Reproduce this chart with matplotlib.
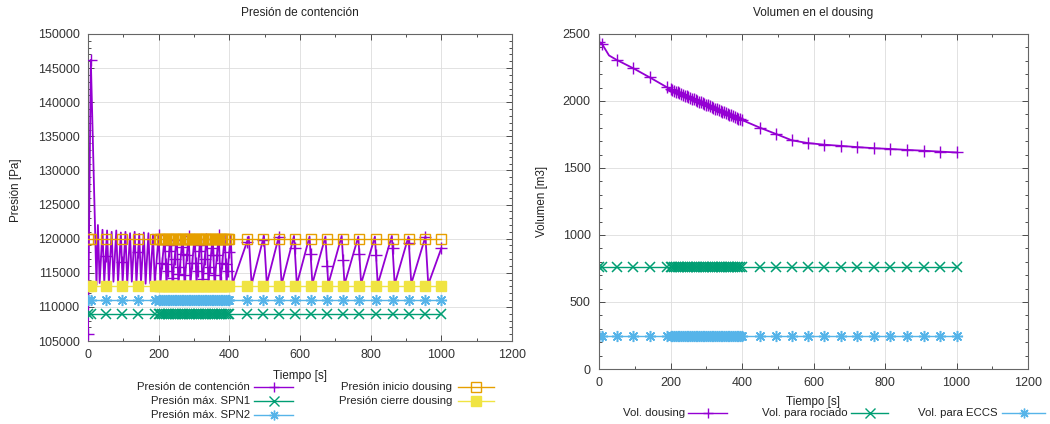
import numpy as np
import matplotlib
matplotlib.use('Agg')
from matplotlib import pyplot as plt
from matplotlib.lines import Line2D
from matplotlib.ticker import MultipleLocator

plt.rcParams['font.family'] = ['Liberation Sans', 'DejaVu Sans']

# gnuplot default colours
PURPLE = '#9400d3'
GREEN = '#009e73'
BLUE = '#56b4e9'
ORANGE = '#e69f00'
YELLOW = '#f0e442'
ASTER = (8, 2, 0)

# pressure curve vertices (s, Pa)
t_pres = [0, 8, 24, 28, 33, 41, 46, 54, 59, 67, 72, 80, 85, 93, 98, 106, 111, 119, 124,
          132, 137, 145, 150, 158, 163, 171, 176, 184, 189,
          200, 205, 217, 222, 234, 239, 251, 256, 268, 273, 285, 290, 302, 307, 319, 324,
          336, 341, 353, 358, 370, 375, 387, 392, 404, 409,
          455, 463, 498, 506, 540, 548, 583, 591, 627, 635, 672, 680, 718, 726, 765, 773,
          812, 820, 860, 868, 907, 915, 955, 963, 1000]
p_pres = [106000, 146200, 113200, 122000, 113500,
          121300, 113600, 121200, 113400, 121000, 113700, 121200, 113500, 120900, 113600,
          121000, 113400, 120800, 113700, 121000, 113500, 120700, 113600, 120900, 113400,
          120800, 113600, 120600, 113500,
          120500, 113600, 120400, 113500, 120500, 113700, 120400, 113500, 120500, 113600,
          120400, 113500, 120500, 113600, 120400, 113500, 120500, 113600, 120400, 113500,
          120500, 113600, 120400, 113500, 120400, 113400,
          120300, 113300, 120400, 113400, 120300, 113300, 120400, 113300, 120300, 113400,
          120300, 113300, 120400, 113300, 120300, 113400, 120300, 113300, 120400, 113300,
          120300, 113400, 120300, 113300, 118600]

# sample times where gnuplot drew the point symbols
t_samp = [0, 8, 50, 96, 142, 189,
          200, 205, 210, 215, 220, 225, 230, 235, 240, 245, 250, 255, 260, 265, 270,
          275, 280, 285, 290, 295, 300, 305, 310, 315, 320, 325, 330, 335, 340, 345,
          350, 355, 360, 365, 370, 375, 380, 385, 390, 395, 400,
          450, 495, 540, 585, 630, 677, 722, 768, 815, 862, 908, 955, 1000]

# dousing volume (m3); t_vol has one extra vertex at the knee (t=28)
t_vol = [0, 8, 28, 50, 96, 142, 189,
         200, 205, 210, 215, 220, 225, 230, 235, 240, 245, 250, 255, 260, 265, 270,
         275, 280, 285, 290, 295, 300, 305, 310, 315, 320, 325, 330, 335, 340, 345,
         350, 355, 360, 365, 370, 375, 380, 385, 390, 395, 400,
         450, 495, 540, 585, 630, 677, 722, 768, 815, 862, 908, 955, 1000]
v_vol = [2440, 2428, 2340, 2306, 2244, 2176, 2104,
         2088, 2082, 2076, 2070, 2064, 2059, 2053, 2047, 2041, 2036, 2030, 2024, 2018,
         2013, 2007, 2001, 1995, 1990, 1984, 1978, 1973, 1967, 1961, 1956, 1950, 1944,
         1938, 1933, 1927, 1921, 1915, 1910, 1904, 1898, 1892, 1887, 1881, 1875, 1869,
         1864, 1858,
         1801, 1754, 1706, 1686, 1674, 1665, 1656, 1648, 1642, 1635, 1629, 1622, 1616]

# constant thresholds
p_spn1 = 109000
p_spn2 = 111000
p_inicio = 120000
p_cierre = 113000
v_rociado = 760
v_eccs = 250

W, H = 1050, 424
TXT = '#222222'


def style_axes(ax, xmax, ymin, ymax, ymajor, yminor):
    ax.set_xlim(0, xmax)
    ax.set_ylim(ymin, ymax)
    ax.xaxis.set_major_locator(MultipleLocator(200))
    ax.xaxis.set_minor_locator(MultipleLocator(100))
    ax.yaxis.set_major_locator(MultipleLocator(ymajor))
    ax.yaxis.set_minor_locator(MultipleLocator(yminor))
    ax.tick_params(which='both', direction='in', top=True, right=True,
                   labelsize=9, colors='#333333', width=0.6)
    ax.tick_params(which='major', length=4, pad=6)
    ax.tick_params(which='minor', length=2)
    ax.grid(True, which='major', color='#dddddd', lw=0.6)
    ax.set_axisbelow(True)
    for s in ax.spines.values():
        s.set_color('#666666')
        s.set_linewidth(0.8)


def key_entry(fig, text, x_text, x0, x1, y, color, marker, mfc):
    yf = 1 - y / H
    fig.text(x_text / W, yf, text, ha='right', va='center', fontsize=8.2, color=TXT)
    fig.add_artist(Line2D([x0 / W, x1 / W], [yf, yf], transform=fig.transFigure,
                          color=color, lw=1.0))
    fig.add_artist(Line2D([(x0 + x1) / 2 / W], [yf], transform=fig.transFigure,
                          color=color, marker=marker, ms=7, mfc=mfc, mew=1.0, ls='none'))


fig = plt.figure(figsize=(W / 100, H / 100), dpi=100)

# left: containment pressure
ax1 = fig.add_axes([88 / W, 1 - 341 / H, 424 / W, 307 / H])
style_axes(ax1, 1200, 105000, 150000, 5000, 1000)
n = len(t_samp)
p_marks = np.interp(t_samp, t_pres, p_pres)
ax1.plot(t_pres, p_pres, color=PURPLE, lw=1.3, zorder=3)
ax1.plot(t_samp, p_marks, ls='none', marker='+', ms=8, mew=1.0, color=PURPLE, zorder=3)
ax1.plot(t_samp, [p_spn1] * n, color=GREEN, lw=1.0, marker='x', ms=6.5, mew=1.1, zorder=4)
ax1.plot(t_samp, [p_spn2] * n, color=BLUE, lw=1.0, marker=ASTER, ms=8, mew=1.1, zorder=4)
ax1.plot(t_samp, [p_inicio] * n, color=ORANGE, lw=1.0, marker='s', ms=7, mew=1.0,
         mfc='none', zorder=5)
ax1.plot(t_samp, [p_cierre] * n, color=YELLOW, lw=1.0, marker='s', ms=7, mew=1.0, zorder=4)
ax1.set_title('Presión de contención', fontsize=8.6, y=1.068, va='center', pad=0, color=TXT)
ax1.set_xlabel('Tiempo [s]', fontsize=8.4, color=TXT)
ax1.xaxis.set_label_coords(0.5, -0.095)
ax1.set_ylabel('Presión [Pa]', fontsize=8.4, color=TXT)
ax1.yaxis.set_label_coords(-0.156, 0.49)

# right: dousing volume
ax2 = fig.add_axes([599 / W, 1 - 369 / H, 429 / W, 335 / H])
style_axes(ax2, 1200, 0, 2500, 500, 100)
marks = [i for i in range(len(t_vol)) if i != 2]
ax2.plot(t_vol, v_vol, color=PURPLE, lw=1.3, marker='+', ms=8, mew=1.0, markevery=marks)
ax2.plot(t_samp, [v_rociado] * n, color=GREEN, lw=1.0, marker='x', ms=6.5, mew=1.1)
ax2.plot(t_samp, [v_eccs] * n, color=BLUE, lw=1.0, marker=ASTER, ms=8, mew=1.1)
ax2.set_title('Volumen en el dousing', fontsize=8.6, y=1.063, va='center', pad=0, color=TXT)
ax2.set_xlabel('Tiempo [s]', fontsize=8.4, color=TXT)
ax2.xaxis.set_label_coords(0.5, -0.08)
ax2.set_ylabel('Volumen [m3]', fontsize=8.4, color=TXT)
ax2.yaxis.set_label_coords(-0.119, 0.50)

# gnuplot-style keys below the plots
key_entry(fig, 'Presión de contención', 250, 254, 293, 387, PURPLE, '+', PURPLE)
key_entry(fig, 'Presión máx. SPN1', 250, 254, 293, 401, GREEN, 'x', GREEN)
key_entry(fig, 'Presión máx. SPN2', 250, 254, 293, 415, BLUE, ASTER, BLUE)
key_entry(fig, 'Presión inicio dousing', 452, 458, 494, 387, ORANGE, 's', 'none')
key_entry(fig, 'Presión cierre dousing', 452, 458, 494, 401, YELLOW, 's', YELLOW)

key_entry(fig, 'Vol. dousing', 685, 688, 727, 413, PURPLE, '+', PURPLE)
key_entry(fig, 'Vol. para rociado', 848, 851, 888, 413, GREEN, 'x', GREEN)
key_entry(fig, 'Vol. para ECCS', 998, 1002, 1045, 413, BLUE, ASTER, BLUE)

plt.savefig('out.png', dpi=100)
plt.close()
